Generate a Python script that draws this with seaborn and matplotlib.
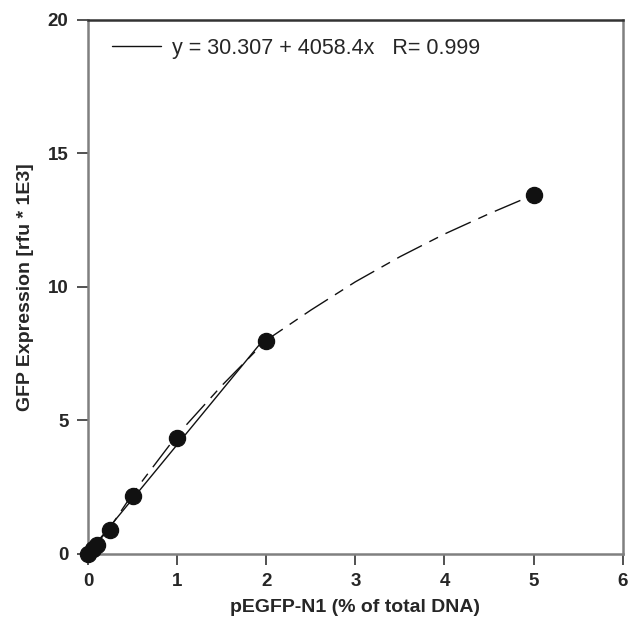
import pandas as pd
import seaborn as sns
from matplotlib import pyplot as plt

# measured points (pEGFP-N1 % of total DNA vs GFP rfu * 1E3)
dna_pct = [0, 0.05, 0.1, 0.25, 0.5, 1, 2, 5]
gfp = [0.0, 0.2, 0.35, 0.9, 2.17, 4.33, 7.97, 13.45]

# linear fit over 0-2 %
fit_x = [0, 2]
fit_y = [0.03, 8.15]

# smooth curve through all points
curve_x = [0, 0.25, 0.5, 1, 1.5, 2, 2.5, 3, 3.5, 4, 4.5, 5]
curve_y = [0, 1.0, 2.25, 4.45, 6.3, 8.0, 9.13, 10.19, 11.13, 11.98, 12.74, 13.45]

fit_label = 'y = 30.307 + 4058.4x   R= 0.999'

sns.set_style('ticks')
plt.rcParams['font.family'] = ['Liberation Sans', 'DejaVu Sans']

fig = plt.figure(figsize=(6.29, 6.23), dpi=100)
ax = fig.add_axes([0.14, 0.111, 0.85, 0.857])

pts = pd.DataFrame({'x': dna_pct, 'y': gfp})
fit = pd.DataFrame({'x': fit_x, 'y': fit_y})
curve = pd.DataFrame({'x': curve_x, 'y': curve_y})

sns.lineplot(data=curve, x='x', y='y', ax=ax, color='#111111', linewidth=1.0,
             dashes=False, legend=False)
ax.lines[-1].set_dashes((20, 6, 7, 6))
sns.lineplot(data=fit, x='x', y='y', ax=ax, color='#111111', linewidth=1.0,
             label=fit_label)
sns.scatterplot(data=pts, x='x', y='y', ax=ax, color='#111111', s=135,
                edgecolor='#111111', zorder=5, clip_on=False)

ax.set_xlim(0, 6)
ax.set_ylim(0, 20)
ax.set_xticks(range(0, 7))
ax.set_yticks([0, 5, 10, 15, 20])

for side in ['left', 'bottom', 'right']:
    ax.spines[side].set_color('#808080')
    ax.spines[side].set_linewidth(1.8)
ax.spines['top'].set_color('#333333')
ax.spines['top'].set_linewidth(1.8)
ax.spines['top'].set_visible(True)
ax.spines['right'].set_visible(True)

ax.tick_params(axis='both', direction='out', length=8, width=1.2,
               color='#333333', labelsize=13.5, pad=6)
for lbl in ax.get_xticklabels() + ax.get_yticklabels():
    lbl.set_fontweight('bold')

ax.set_xlabel('pEGFP-N1 (% of total DNA)', fontsize=14, fontweight='bold',
              labelpad=6)
ax.set_ylabel('GFP Expression [rfu * 1E3]', fontsize=14, fontweight='bold',
              labelpad=10)

leg = ax.legend(loc='upper left', frameon=False, fontsize=15.5,
                handlelength=2.3, handletextpad=0.5,
                bbox_to_anchor=(0.008, 1.003))

fig.savefig('out.png', dpi=100)
